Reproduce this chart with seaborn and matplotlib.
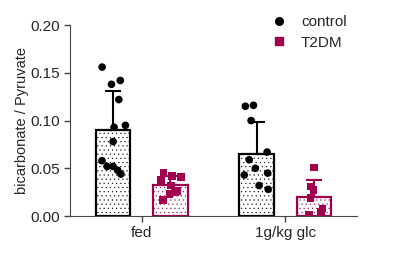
import pandas as pd
import numpy as np
import seaborn as sns
import matplotlib.pyplot as plt
from matplotlib.lines import Line2D

# values
groups = ['fed', '1g/kg glc']
series = ['control', 'T2DM']

fed_control = [0.156, 0.142, 0.138, 0.122, 0.095, 0.093, 0.078, 0.058, 0.052, 0.052, 0.048, 0.044]
fed_t2dm = [0.045, 0.042, 0.041, 0.038, 0.032, 0.026, 0.025, 0.023, 0.017]
glc_control = [0.116, 0.115, 0.100, 0.067, 0.059, 0.050, 0.045, 0.043, 0.032, 0.028]
glc_t2dm = [0.051, 0.031, 0.027, 0.019, 0.008, 0.004, 0.001]

rows = []
for g, s, vals in [('fed', 'control', fed_control), ('fed', 'T2DM', fed_t2dm),
                   ('1g/kg glc', 'control', glc_control), ('1g/kg glc', 'T2DM', glc_t2dm)]:
    for v in vals:
        rows.append({'group': g, 'series': s, 'value': v})
df = pd.DataFrame(rows)

colors = {'control': 'black', 'T2DM': '#A0004E'}
markers = {'control': 'o', 'T2DM': 's'}

sns.set_style('ticks')
plt.rcParams['font.family'] = ['Liberation Sans', 'DejaVu Sans']
plt.rcParams['hatch.linewidth'] = 0.3

fig = plt.figure(figsize=(4, 2.56), dpi=100)
ax = fig.add_axes([0.175, 0.156, 0.7175, 0.746])

# bars (mean) with dotted fill
sns.barplot(data=df, x='group', y='value', hue='series', order=groups, hue_order=series,
            errorbar=None, gap=0.4, fill=False, linewidth=1.6, legend=False,
            palette=colors, ax=ax, zorder=2)
for cont, s in zip(ax.containers, series):
    for bar in cont:
        bar.set_hatch('....')
        bar.set_edgecolor(colors[s])
        bar.set_facecolor('white')
        bar.set_fill(True)

# SD error bars, upward only
stats = df.groupby(['series', 'group'])['value'].agg(['mean', 'std'])
for cont, s in zip(ax.containers, series):
    for bar, g in zip(cont, groups):
        xc = bar.get_x() + bar.get_width() / 2
        m, sd = stats.loc[(s, g)]
        ax.errorbar(xc, m, yerr=[[0], [sd]], color=colors[s], capsize=6,
                    elinewidth=1.5, capthick=1.5, zorder=3)

# individual animals
np.random.seed(7)
for s in series:
    sub = df[df['series'] == s]
    sns.stripplot(data=sub, x='group', y='value', hue='series', order=groups,
                  hue_order=series, dodge=True, jitter=0.18, palette=colors,
                  marker=markers[s], size=5.5, linewidth=0, legend=False,
                  ax=ax, zorder=4)

handles = [Line2D([], [], marker=markers[s], ls='', color=colors[s], markersize=5.5)
           for s in series]
ax.legend(handles, series, frameon=False, loc='upper left', bbox_to_anchor=(0.68, 1.085),
          fontsize=11, handlelength=1.0, handletextpad=0.95, labelspacing=0.45,
          borderaxespad=0)

ax.set_xlim(-0.5, 1.5)
ax.set_ylim(0, 0.2)
ax.set_yticks([0, 0.05, 0.10, 0.15, 0.20])
ax.set_yticklabels(['0.00', '0.05', '0.10', '0.15', '0.20'])
ax.set_xlabel('')
ax.set_ylabel('bicarbonate / Pyruvate', fontsize=10.5)
ax.yaxis.set_label_coords(-0.143, 0.5)
ax.tick_params(labelsize=11, color='#444444', width=1, length=4)
for sp in ['left', 'bottom']:
    ax.spines[sp].set_color('#444444')
sns.despine(ax=ax)

fig.savefig('out.png', dpi=100)
